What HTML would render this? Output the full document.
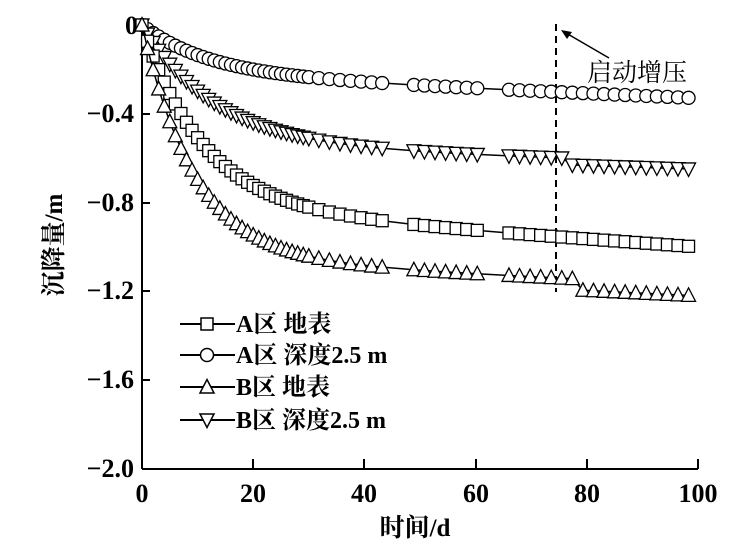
<!DOCTYPE html>
<html><head><meta charset="utf-8"><style>
html,body{margin:0;padding:0;background:#fff;}
svg{display:block;font-family:"Liberation Serif","Noto Serif CJK SC",serif;}
</style></head><body>
<svg id="s" width="734" height="553" viewBox="0 0 734 553" xmlns="http://www.w3.org/2000/svg">
<g stroke="#000" stroke-width="2" fill="none">
<line x1="142" y1="20" x2="142" y2="469"/>
<line x1="142" y1="469" x2="698" y2="469"/>
<line x1="142" y1="114" x2="150" y2="114"/>
<line x1="142" y1="203" x2="150" y2="203"/>
<line x1="142" y1="291" x2="150" y2="291"/>
<line x1="142" y1="380" x2="150" y2="380"/>
<line x1="253" y1="469" x2="253" y2="459"/>
<line x1="364" y1="469" x2="364" y2="459"/>
<line x1="476" y1="469" x2="476" y2="459"/>
<line x1="587" y1="469" x2="587" y2="459"/>
<line x1="698" y1="469" x2="698" y2="459"/>
<line x1="556" y1="24" x2="556" y2="292" stroke-dasharray="7,5"/>
<line x1="609" y1="58" x2="566" y2="33" stroke-width="1.5"/>
</g>
<polygon points="561,30 572,32 567,39" fill="#000"/>
<g font-size="26" font-weight="bold" text-anchor="end">
<text x="138" y="34">0</text>
<text x="134" y="122">−0.4</text>
<text x="134" y="211">−0.8</text>
<text x="134" y="299">−1.2</text>
<text x="134" y="388">−1.6</text>
<text x="134" y="477">−2.0</text>
</g>
<g font-size="26" font-weight="bold" text-anchor="middle">
<text x="142" y="502">0</text>
<text x="253" y="502">20</text>
<text x="364" y="502">40</text>
<text x="476" y="502">60</text>
<text x="587" y="502">80</text>
<text x="698" y="502">100</text>
<text x="415" y="536" font-size="25">时间/d</text>
<text transform="translate(62,245) rotate(-90)" font-size="25">沉降量/m</text>
</g>
<text x="587" y="81" font-size="25">启动增压</text>
<g id="series" fill="#fff" stroke="#000" stroke-width="1.3"></g>
<g id="leg" fill="#fff" stroke="#000" stroke-width="1.5"></g>
<g font-size="24" font-weight="bold">
<text x="236" y="332">A区 地表</text>
<text x="236" y="363">A区 深度2.5 m</text>
<text x="236" y="395">B区 地表</text>
<text x="236" y="428">B区 深度2.5 m</text>
</g>
</svg>
<script>
var NS="http://www.w3.org/2000/svg";
function X(t){return 142+t*5.56;}
function Y(v){return 25+v*222;}
var fns={
sq:function(t){return 0.82*(1-Math.exp(-t/11))+0.0018*t;},
ci:function(t){return 0.22*(1-Math.exp(-t/12))+0.0011*t;},
it:function(t){return 0.54*(1-Math.exp(-t/13))+0.0008*t+(t>77?0.03:0);},
tr:function(t){return 1.05*(1-Math.exp(-t/9.5))+0.0012*t+(t>78?0.05:0);}
};
var ts=[];for(var t=0;t<=30;t+=1)ts.push(t);for(t=31.8;t<=98.5;t+=1.9)ts.push(t);
ts=ts.filter(function(t){return !(t>44&&t<47)&&!(t>62&&t<64.5);});
function marker(g,k,x,y){
 var e;
 if(k=="sq"){e=document.createElementNS(NS,"rect");e.setAttribute("x",x-6);e.setAttribute("y",y-6);e.setAttribute("width",12);e.setAttribute("height",12);}
 else if(k=="ci"){e=document.createElementNS(NS,"circle");e.setAttribute("cx",x);e.setAttribute("cy",y);e.setAttribute("r",6.5);}
 else if(k=="tr"){e=document.createElementNS(NS,"polygon");e.setAttribute("points",(x-7)+","+(y+6)+" "+(x+7)+","+(y+6)+" "+x+","+(y-7.5));}
 else {e=document.createElementNS(NS,"polygon");e.setAttribute("points",(x-7)+","+(y-6)+" "+(x+7)+","+(y-6)+" "+x+","+(y+7.5));}
 g.appendChild(e);
}
var g=document.getElementById("series");
["ci","it","sq","tr"].forEach(function(k){
 var pts=ts.map(function(t){return X(t)+","+Y(fns[k](t));}).join(" ");
 var pl=document.createElementNS(NS,"polyline");pl.setAttribute("points",pts);pl.setAttribute("fill","none");pl.setAttribute("stroke-width","1.5");g.appendChild(pl);
 ts.forEach(function(t){marker(g,k,X(t),Y(fns[k](t)));});
});
var lg=document.getElementById("leg");
[["sq",324],["ci",355],["tr",387],["it",420]].forEach(function(r){
 var l=document.createElementNS(NS,"line");l.setAttribute("x1",180);l.setAttribute("x2",235);l.setAttribute("y1",r[1]);l.setAttribute("y2",r[1]);l.setAttribute("stroke-width","2");lg.appendChild(l);
 marker(lg,r[0],207,r[1]);
});
</script>
</body></html>
